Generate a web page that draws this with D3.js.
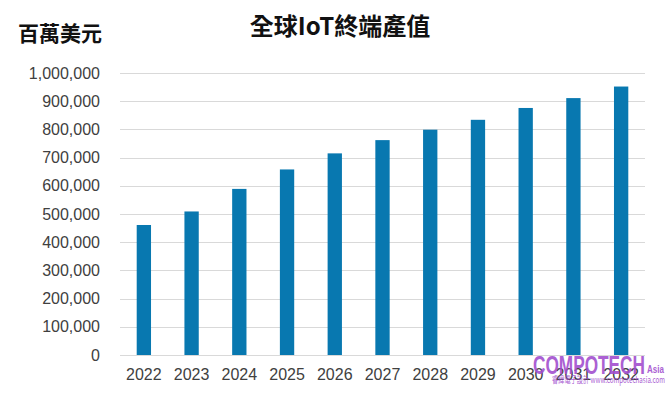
<!DOCTYPE html>
<html>
<head>
<meta charset="utf-8">
<style>
body { margin: 0; background: #fff; }
.tick text { font: 16px "Liberation Sans", Arial, sans-serif; fill: #404040; }
.grid line { stroke: #d9d9d9; }
</style>
<script src="https://d3js.org/d3.v7.min.js"></script>
</head>
<body>
<div id="chart"></div>
<script>
var years = ["2022","2023","2024","2025","2026","2027","2028","2029","2030","2031","2032"];
var values = [461000, 509000, 589000, 658000, 715000, 762000, 799000, 834000, 876000, 911000, 952000];
var yTicks = [0,100000,200000,300000,400000,500000,600000,700000,800000,900000,1000000];

var width = 670, height = 395,
    margin = {top: 73, right: 25, bottom: 40, left: 120};
var innerW = width - margin.left - margin.right,
    innerH = height - margin.top - margin.bottom;

var svg = d3.select("#chart").append("svg")
    .attr("width", width)
    .attr("height", height);

var g = svg.append("g")
    .attr("transform", `translate(${margin.left},${margin.top})`);

var x = d3.scaleBand().domain(years).range([0, innerW]).paddingInner(0.7).paddingOuter(0.35);
var y = d3.scaleLinear().domain([0, 1000000]).range([innerH, 0]);

// gridlines
g.append("g").attr("class", "grid")
  .selectAll("line")
  .data(yTicks)
  .enter().append("line")
  .attr("x1", 0).attr("x2", innerW)
  .attr("y1", d => Math.round(y(d)) + 0.5)
  .attr("y2", d => Math.round(y(d)) + 0.5);

// y axis labels
var yAxis = g.append("g")
  .call(d3.axisLeft(y).tickValues(yTicks).tickFormat(d3.format(",")).tickSize(0).tickPadding(20));
yAxis.select(".domain").remove();

// x axis labels
var xAxis = g.append("g")
  .attr("transform", `translate(0,${innerH})`)
  .call(d3.axisBottom(x).tickSize(0).tickPadding(14));
xAxis.select(".domain").remove();

// bars
g.selectAll(".bar")
  .data(values)
  .enter().append("rect")
  .attr("class", "bar")
  .attr("x", (d, i) => x(years[i]))
  .attr("y", d => y(d))
  .attr("width", x.bandwidth())
  .attr("height", d => innerH - y(d))
  .attr("fill", "#0878b0");

// titles
svg.append("text")
  .attr("x", 340).attr("y", 35)
  .attr("text-anchor", "middle")
  .style("font", "bold 24px 'Noto Sans CJK TC', sans-serif")
  .style("fill", "#111")
  .text("全球IoT終端產值");

svg.append("text")
  .attr("x", 18).attr("y", 41)
  .style("font", "bold 21px 'Noto Sans CJK TC', sans-serif")
  .style("fill", "#111")
  .text("百萬美元");

// watermark
var wm = svg.append("g").style("fill", "#a24fcf").style("opacity", 0.9);
wm.append("text")
  .attr("x", 533).attr("y", 374)
  .attr("textLength", 112).attr("lengthAdjust", "spacingAndGlyphs")
  .style("font", "bold 26px 'Liberation Sans Narrow', 'Liberation Sans', sans-serif")
  .text("COMPOTECH");
wm.append("text")
  .attr("x", 647).attr("y", 373)
  .attr("textLength", 17).attr("lengthAdjust", "spacingAndGlyphs")
  .style("font", "bold 10px 'Liberation Sans', sans-serif")
  .text("Asia");
wm.append("text")
  .attr("x", 552).attr("y", 383)
  .attr("textLength", 113).attr("lengthAdjust", "spacingAndGlyphs")
  .style("font", "9px 'Noto Sans CJK TC', sans-serif")
  .text("睿緯電子設計 www.compotechasia.com");
</script>
</body>
</html>
